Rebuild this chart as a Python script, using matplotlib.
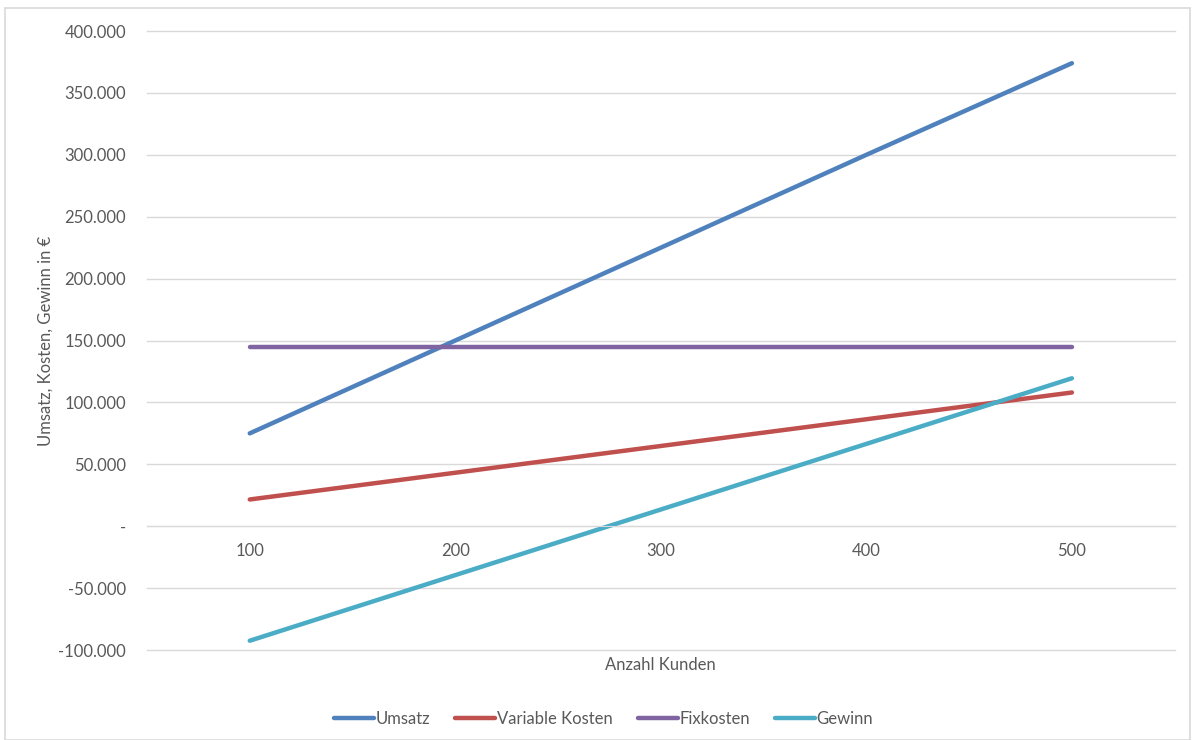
import matplotlib.pyplot as plt
from matplotlib.patches import Rectangle
from matplotlib.ticker import FuncFormatter

plt.rcParams['font.family'] = ['Lato', 'DejaVu Sans']

kunden = [100, 200, 300, 400, 500]
umsatz = [75000, 150000, 225000, 300000, 374000]
variable_kosten = [21600, 43200, 64800, 86400, 108000]
fixkosten = [145000, 145000, 145000, 145000, 145000]
gewinn = [-92500, -39500, 13500, 66500, 119500]

series = [
    ("Umsatz", umsatz, "#4F81BD"),
    ("Variable Kosten", variable_kosten, "#C0504D"),
    ("Fixkosten", fixkosten, "#8064A2"),
    ("Gewinn", gewinn, "#4BACC6"),
]

text_color = "#595959"
grid_color = "#d9d9d9"
fs = 12


def de_format(v, pos):
    # German thousands separator, zero shown as a dash
    if v == 0:
        return "-"
    return f"{v:,.0f}".replace(",", ".")


fig = plt.figure(figsize=(11.95, 7.4), dpi=100)
fig.patches.append(Rectangle((0.004, 0.0), 0.992, 0.989, transform=fig.transFigure,
                             fill=False, edgecolor=grid_color, linewidth=1.2))

ax = fig.add_axes([0.123, 0.1216, 0.860, 0.8365])
xs = list(range(1, len(kunden) + 1))

for name, values, color in series:
    ax.plot(xs, values, color=color, linewidth=3.2, solid_capstyle="round", label=name)

ax.set_xlim(0.5, len(kunden) + 0.5)
ax.set_ylim(-100000, 400000)
ax.set_yticks(range(-100000, 400001, 50000))
ax.yaxis.set_major_formatter(FuncFormatter(de_format))
ax.grid(axis="y", color=grid_color, linewidth=1.0)
ax.set_axisbelow(True)
# keep the outermost gridlines fully visible at the axes edges
for tick in ax.yaxis.get_major_ticks():
    tick.gridline.set_clip_on(False)

for side in ["top", "right", "left"]:
    ax.spines[side].set_visible(False)
ax.spines["bottom"].set_position(("data", 0))
ax.spines["bottom"].set_color(grid_color)

ax.set_xticks(xs)
ax.set_xticklabels([str(k) for k in kunden])
ax.tick_params(axis="x", length=0, pad=12, labelsize=fs, labelcolor=text_color)
ax.tick_params(axis="y", length=0, pad=15, labelsize=fs, labelcolor=text_color)

fig.text(0.553, 0.101, "Anzahl Kunden", ha="center", va="center",
         fontsize=fs, color=text_color)
fig.text(0.038, 0.54, "Umsatz, Kosten, Gewinn in €", ha="center", va="center",
         rotation=90, fontsize=fs, color=text_color)

fig.legend(loc="center", bbox_to_anchor=(0.505, 0.029), ncol=4, frameon=False,
           fontsize=fs, labelcolor=text_color, handlelength=2.4,
           handletextpad=0.1, columnspacing=1.5)

fig.savefig("out.png", dpi=100)
plt.close(fig)
